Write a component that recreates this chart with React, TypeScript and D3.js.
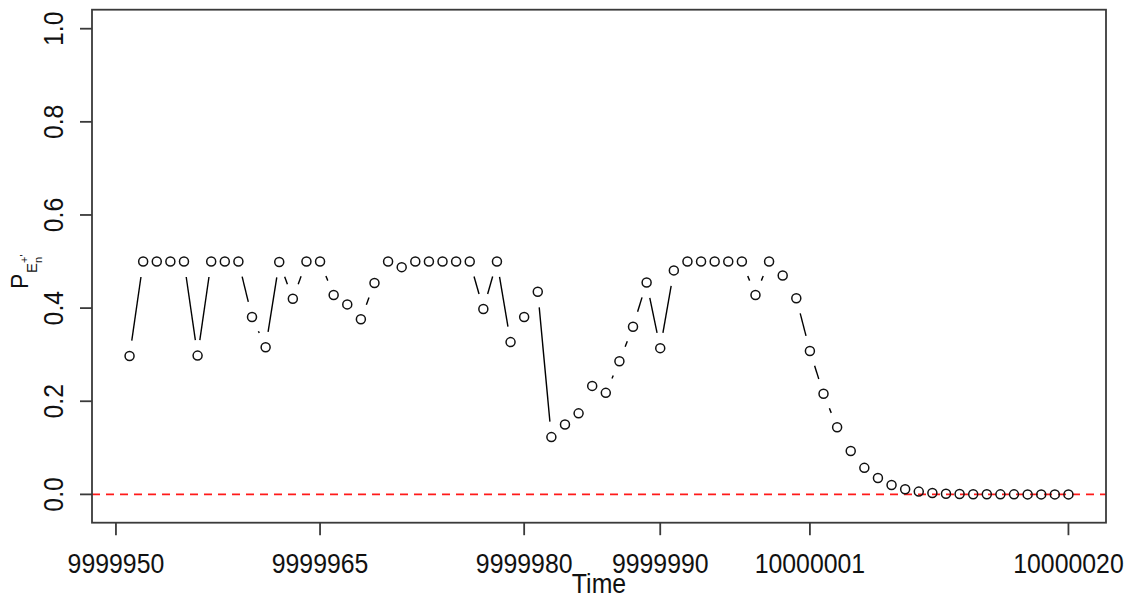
import React from "react";
import * as d3 from "d3";

// Time steps and the probability observed at each step
const times: number[] = [
  9999951, 9999952, 9999953, 9999954, 9999955, 9999956, 9999957, 9999958, 9999959, 9999960,
  9999961, 9999962, 9999963, 9999964, 9999965, 9999966, 9999967, 9999968, 9999969, 9999970,
  9999971, 9999972, 9999973, 9999974, 9999975, 9999976, 9999977, 9999978, 9999979, 9999980,
  9999981, 9999982, 9999983, 9999984, 9999985, 9999986, 9999987, 9999988, 9999989, 9999990,
  9999991, 9999992, 9999993, 9999994, 9999995, 9999996, 9999997, 9999998, 9999999, 10000000,
  10000001, 10000002, 10000003, 10000004, 10000005, 10000006, 10000007, 10000008, 10000009, 10000010,
  10000011, 10000012, 10000013, 10000014, 10000015, 10000016, 10000017, 10000018, 10000019, 10000020,
];

const probs: number[] = [
  0.297, 0.5, 0.5, 0.5, 0.5, 0.298, 0.5, 0.5, 0.5, 0.381,
  0.316, 0.499, 0.42, 0.5, 0.5, 0.428, 0.408, 0.376, 0.454, 0.5,
  0.488, 0.5, 0.5, 0.5, 0.5, 0.5, 0.398, 0.5, 0.327, 0.381,
  0.435, 0.123, 0.15, 0.174, 0.233, 0.218, 0.286, 0.36, 0.455, 0.314,
  0.481, 0.5, 0.5, 0.5, 0.5, 0.5, 0.428, 0.5, 0.47, 0.421,
  0.308, 0.216, 0.144, 0.093, 0.057, 0.035, 0.02, 0.011, 0.006, 0.003,
  0.0015, 0.0008, 0.0004, 0.0002, 0.0001, 0.0001, 0, 0, 0, 0,
];

const xTicks: number[] = [9999950, 9999965, 9999980, 9999990, 10000001, 10000020];
const yTicks: number[] = [0, 0.2, 0.4, 0.6, 0.8, 1.0];
const refLevel = 0;

const W = 1131;
const H = 597;
const box = { left: 92, right: 1106, top: 9.7, bottom: 522.7 };

const FONT = "'Liberation Sans', Arial, Helvetica, sans-serif";

export default function App() {
  // x domain: data range padded by 4% on each side
  const tMin = d3.min(times)!;
  const tMax = d3.max(times)!;
  const pad = (tMax - tMin) * 0.04;
  const x = d3.scaleLinear().domain([tMin - pad, tMax + pad]).range([box.left, box.right]);

  // y domain: [-0.02, 1] padded by 4%
  const yLo = -0.02;
  const yHi = 1;
  const yPad = (yHi - yLo) * 0.04;
  const y = d3.scaleLinear().domain([yLo - yPad, yHi + yPad]).range([box.bottom, box.top]);

  const pts = times.map((t, i) => ({ px: x(t), py: y(probs[i]) }));

  // segments between consecutive points, trimmed around each marker
  const gap = 15.6;
  const segs: { x1: number; y1: number; x2: number; y2: number }[] = [];
  for (let i = 0; i < pts.length - 1; i++) {
    const a = pts[i];
    const b = pts[i + 1];
    const dx = b.px - a.px;
    const dy = b.py - a.py;
    const len = Math.hypot(dx, dy);
    if (len > 2 * gap) {
      const f = gap / len;
      segs.push({ x1: a.px + dx * f, y1: a.py + dy * f, x2: b.px - dx * f, y2: b.py - dy * f });
    }
  }

  const axisColor = "#3a3a3a";
  const tickLabelSize = 27;

  return (
    <svg
      width={W}
      height={H}
      style={{ position: "absolute", left: 0, top: 0, background: "#fff" }}
      fontFamily={FONT}
    >
      <rect x={0} y={0} width={W} height={H} fill="#fff" />

      {/* reference level */}
      <line
        x1={box.left}
        x2={box.right}
        y1={y(refLevel)}
        y2={y(refLevel)}
        stroke="#ff1a1a"
        strokeWidth={1.6}
        strokeDasharray="8,6"
      />

      {/* connecting segments */}
      {segs.map((s, i) => (
        <line key={i} x1={s.x1} y1={s.y1} x2={s.x2} y2={s.y2} stroke="#000" strokeWidth={1.4} />
      ))}

      {/* markers */}
      {pts.map((p, i) => (
        <circle key={i} cx={p.px} cy={p.py} r={4.5} fill="none" stroke="#111" strokeWidth={1.5} />
      ))}

      {/* frame */}
      <rect
        x={box.left}
        y={box.top}
        width={box.right - box.left}
        height={box.bottom - box.top}
        fill="none"
        stroke={axisColor}
        strokeWidth={1.8}
      />

      {/* x axis */}
      {xTicks.map((t) => (
        <g key={t}>
          <line x1={x(t)} x2={x(t)} y1={box.bottom} y2={box.bottom + 12.5} stroke={axisColor} strokeWidth={1.8} />
          <text
            transform={`translate(${x(t)},573) scale(0.92,1)`}
            textAnchor="middle"
            fontSize={tickLabelSize}
            fill="#111"
          >
            {String(t)}
          </text>
        </g>
      ))}

      {/* y axis */}
      {yTicks.map((v) => (
        <g key={v}>
          <line x1={box.left - 12} x2={box.left} y1={y(v)} y2={y(v)} stroke={axisColor} strokeWidth={1.8} />
          <text
            transform={`translate(63,${y(v)}) rotate(-90) scale(0.92,1)`}
            textAnchor="middle"
            fontSize={tickLabelSize}
            fill="#111"
          >
            {d3.format(".1f")(v)}
          </text>
        </g>
      ))}

      {/* axis titles */}
      <text
        transform={`translate(${(box.left + box.right) / 2},593) scale(0.92,1)`}
        textAnchor="middle"
        fontSize={tickLabelSize}
        fill="#111"
      >
        Time
      </text>

      <g transform="translate(28,289) rotate(-90)" fill="#111">
        <text x={0} y={0} fontSize={23}>P</text>
        <text x={16} y={9} fontSize={15}>E</text>
        <text x={26} y={0} fontSize={11}>+'</text>
        <text x={26} y={14} fontSize={11}>n</text>
      </g>
    </svg>
  );
}
